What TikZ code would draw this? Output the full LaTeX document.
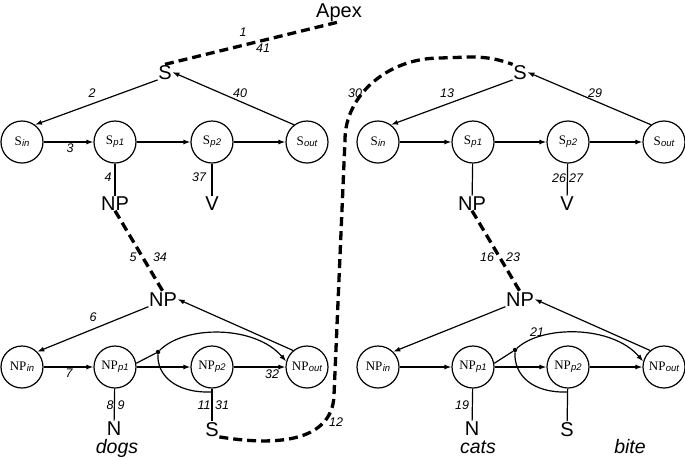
\documentclass[tikz,border=0pt]{standalone}
\usepackage{fontspec}
\setmainfont{Liberation Serif}
\setsansfont{Liberation Sans}
\usetikzlibrary{arrows.meta}
\newcommand\clab[2]{{\fontsize{13}{13}\selectfont #1}\kern0.3pt\raisebox{-1.2pt}{\sffamily\itshape\fontsize{9.5}{9.5}\selectfont #2}}
\begin{document}
\begin{tikzpicture}[x=1pt,y=-1pt,
  st/.style={circle, draw, line width=1.2pt, minimum size=42pt, inner sep=0pt},
  big/.style={font=\sffamily\fontsize{20}{20}\selectfont, inner sep=0.5pt, anchor=base},
  bigit/.style={font=\sffamily\itshape\fontsize{19.5}{19.5}\selectfont, inner sep=0pt, anchor=base},
  num/.style={font=\sffamily\itshape\fontsize{12.5}{12.5}\selectfont, inner sep=0pt},
  ln/.style={line width=1.2pt},
  arr/.style={line width=1.2pt, -{Latex[length=7pt,width=5pt]}},
  dsh/.style={line width=3.3pt, dash pattern=on 9pt off 5pt},
  dotst/.style={circle, fill, inner sep=0pt, minimum size=4.5pt}]
\useasboundingbox (0,0) rectangle (685,459);

% ---------------- left side ----------------
\node[big] (Apex) at (339,17) {Apex};
\node[big] (S) at (165,79) {S};
\node[st] (Sin) at (22,142) {\clab{S}{in}};
\node[st] (Sp1) at (115,142) {\clab{S}{p1}};
\node[st] (Sp2) at (212,142) {\clab{S}{p2}};
\node[st] (Sout) at (307,142) {\clab{S}{out}};
\node[big] (NPa) at (115,210) {NP};
\node[big] (Va) at (212,210) {V};
\node[big] (NPm) at (163,306) {NP};
\node[st] (NPin) at (22,367) {\clab{NP}{in}};
\node[st] (NPp1) at (115,367) {\clab{NP}{p1}};
\node[st] (NPp2) at (212,367) {\clab{NP}{p2}};
\node[st] (NPout) at (307,367) {\clab{NP}{out}};
\node[big] (Na) at (114,435) {N};
\node[bigit] (dogs) at (117,453) {dogs};
\node[big] (Sb) at (212,436) {S};
\node[dotst] (dA) at (158,352) {};
\coordinate (kA) at (211,392);

\draw[dsh] (S.north) -- (Apex.south);
\draw[arr] (S.south west) -- (Sin.53);
\draw[arr] (Sin) -- (Sp1);
\draw[arr] (Sp1) -- (Sp2);
\draw[arr] (Sp2) -- (Sout);
\draw[arr] (Sout.127) -- (S.east);
\draw[ln] (Sp1) -- (NPa);
\draw[ln] (Sp2) -- (Va);
\draw[dsh] (NPa.south) -- (NPm.north);
\draw[arr] (NPm.south west) -- (NPin.45);
\draw[arr] (NPin) -- (NPp1);
\draw[arr] (NPp1) -- (NPp2);
\draw[arr] (NPp2) -- (NPout);
\draw[arr] (NPout.130) -- (NPm.east);
\draw[ln] (NPp1) -- (Na);
\draw[ln] (NPp2) -- (Sb);
\draw[ln] (NPp1.10) -- (dA);
\draw[arr] (dA) .. controls (185,325) and (255,325) .. (NPout.165);
\draw[ln] (kA) .. controls (175,393) and (157,375) .. (dA);

\node[num] (l1) at (243,32) {1};
\node[num] (l41) at (263,48) {41};
\node[num] (l2) at (92,93) {2};
\node[num] (l40) at (240,93) {40};
\node[num] (l3) at (70,148) {3};
\node[num] (l4) at (108,177) {4};
\node[num] (l37) at (199,177) {37};
\node[num] (l5) at (133,257) {5};
\node[num] (l34) at (160,257) {34};
\node[num] (l6) at (93,317) {6};
\node[num] (l7) at (69,373) {7};
\node[num] (l32) at (272,374) {32};
\node[num] (l8) at (110,405) {8};
\node[num] (l9) at (121,405) {9};
\node[num] (l11) at (204,405) {11};
\node[num] (l31) at (222,405) {31};
\node[num] (l12) at (336,422) {12};

% ---------------- right side ----------------
\node[big] (Sr) at (520,79) {S};
\node[st] (Sinr) at (378,142) {\clab{S}{in}};
\node[st] (Sp1r) at (473,142) {\clab{S}{p1}};
\node[st] (Sp2r) at (568,142) {\clab{S}{p2}};
\node[st] (Soutr) at (664,142) {\clab{S}{out}};
\node[big] (NPb) at (472,210) {NP};
\node[big] (Vb) at (567,210) {V};
\node[big] (NPmr) at (520,306) {NP};
\node[st] (NPinr) at (378,367) {\clab{NP}{in}};
\node[st] (NPp1r) at (473,367) {\clab{NP}{p1}};
\node[st] (NPp2r) at (568,367) {\clab{NP}{p2}};
\node[st] (NPoutr) at (664,367) {\clab{NP}{out}};
\node[big] (Nb) at (472,435) {N};
\node[bigit] (cats) at (478,453) {cats};
\node[big] (Sbr) at (567,436) {S};
\node[bigit] (bite) at (630,453) {bite};
\node[dotst] (dB) at (515,350) {};
\coordinate (kB) at (567,392);

\draw[arr] (Sr.south west) -- (Sinr.53);
\draw[arr] (Sinr) -- (Sp1r);
\draw[arr] (Sp1r) -- (Sp2r);
\draw[arr] (Sp2r) -- (Soutr);
\draw[arr] (Soutr.127) -- (Sr.east);
\draw[ln] (Sp1r) -- (NPb);
\draw[ln] (Sp2r) -- (Vb);
\draw[dsh] (NPb.south) -- (NPmr.north);
\draw[arr] (NPmr.south west) -- (NPinr.45);
\draw[arr] (NPinr) -- (NPp1r);
\draw[arr] (NPp1r) -- (NPp2r);
\draw[arr] (NPp2r) -- (NPoutr);
\draw[arr] (NPoutr.130) -- (NPmr.east);
\draw[ln] (NPp1r) -- (Nb);
\draw[ln] (NPp2r) -- (Sbr);
\draw[ln] (NPp1r.10) -- (dB);
\draw[arr] (dB) .. controls (542,325) and (612,325) .. (NPoutr.165);
\draw[ln] (kB) .. controls (532,393) and (514,375) .. (dB);

% long dashed link
\coordinate (c1) at (334,395);
\coordinate (c2) at (345,140);
\coordinate (c3) at (440,58);
\coordinate (c4) at (470,57);
\draw[dsh] (Sb.south east) .. controls (300,450) and (333,430) .. (c1) -- (c2)
  .. controls (345,95) and (388,58) .. (c3) -- (c4)
  .. controls (490,57) and (500,60) .. (Sr.north west);

\node[num] (l30) at (355,93) {30};
\node[num] (l13) at (447,93) {13};
\node[num] (l29) at (595,93) {29};
\node[num] (l26) at (559,178) {26};
\node[num] (l27) at (576,178) {27};
\node[num] (l16) at (487,257) {16};
\node[num] (l23) at (513,257) {23};
\node[num] (l21) at (537,332) {21};
\node[num] (l19) at (462,405) {19};
\end{tikzpicture}
\end{document}
